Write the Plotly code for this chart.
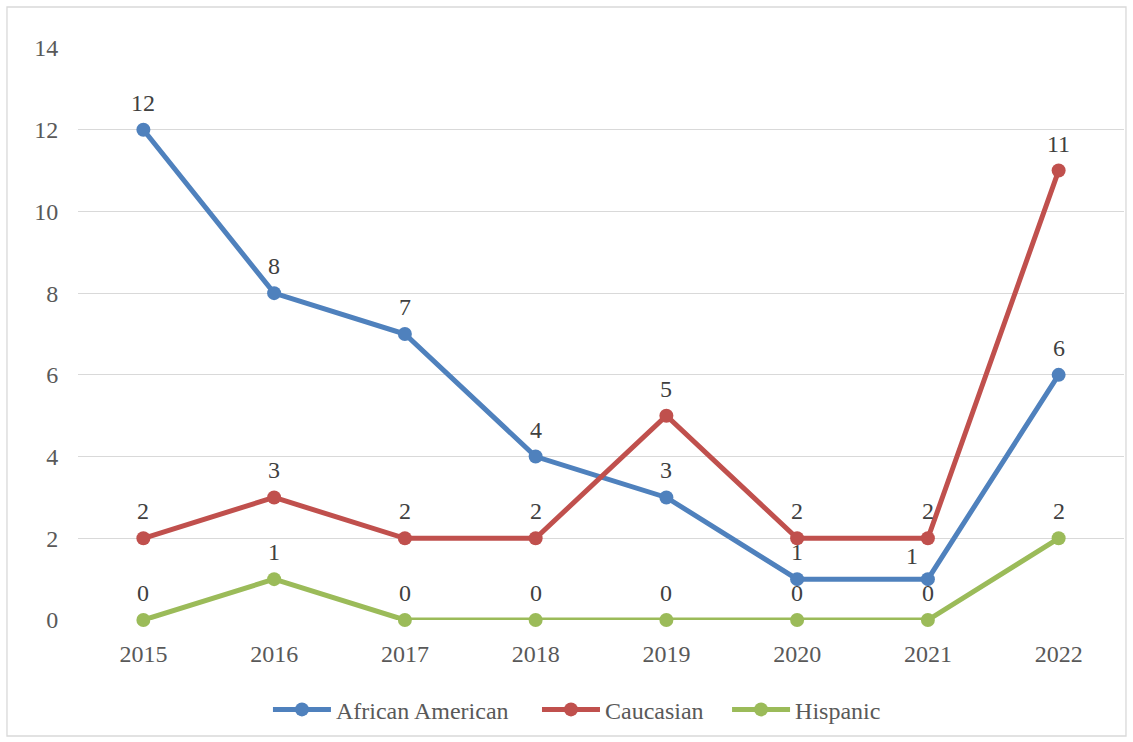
import plotly.graph_objects as go

years = ["2015", "2016", "2017", "2018", "2019", "2020", "2021", "2022"]
african_american = [12, 8, 7, 4, 3, 1, 1, 6]
caucasian = [2, 3, 2, 2, 5, 2, 2, 11]
hispanic = [0, 1, 0, 0, 0, 0, 0, 2]
y_ticks = [0, 2, 4, 6, 8, 10, 12, 14]

series = [
    ("African American", african_american, "#4F81BD"),
    ("Caucasian", caucasian, "#C0504D"),
    ("Hispanic", hispanic, "#9BBB59"),
]

FONT = "'Times New Roman', 'Liberation Serif', 'DejaVu Serif', serif"
TXT = "#595959"
FS = 24

legend_ids = ["legend", "legend2", "legend3"]
legend_x = [0.1816, 0.4388, 0.6205]

fig = go.Figure()
xs = list(range(len(years)))
annotations = []
for k, (name, vals, color) in enumerate(series):
    fig.add_trace(go.Scatter(
        x=xs, y=vals, name=name, mode="lines+markers",
        line=dict(color=color, width=5),
        marker=dict(color=color, size=14),
        cliponaxis=False, legend=legend_ids[k],
    ))
    for i, v in enumerate(vals):
        xshift, yshift = 0, 27
        if name == "African American" and i == 6:
            xshift, yshift = -16, 23
        annotations.append(dict(
            x=i, y=v, xref="x", yref="y", text=str(v), showarrow=False,
            xanchor="center", yanchor="middle", xshift=xshift, yshift=yshift,
            font=dict(family=FONT, size=FS, color="#404040"),
        ))

legend_common = dict(orientation="h", xanchor="left", y=-0.157, yanchor="middle",
                     font=dict(family=FONT, size=FS, color=TXT), itemwidth=58,
                     bgcolor="rgba(0,0,0,0)")

fig.update_layout(
    width=1133, height=742,
    margin=dict(l=78, r=9, t=48, b=122),
    paper_bgcolor="white", plot_bgcolor="white",
    font=dict(family=FONT, size=FS, color=TXT),
    showlegend=True,
    legend=dict(x=legend_x[0], **legend_common),
    legend2=dict(x=legend_x[1], **legend_common),
    legend3=dict(x=legend_x[2], **legend_common),
    xaxis=dict(range=[-0.5, 7.5], tickmode="array", tickvals=xs, ticktext=years,
               showgrid=False, zeroline=False, showline=False,
               ticks="outside", ticklen=12, tickcolor="rgba(0,0,0,0)",
               tickfont=dict(family=FONT, size=FS, color=TXT), fixedrange=True),
    yaxis=dict(range=[0, 14], tickmode="array", tickvals=y_ticks,
               ticktext=[str(t) for t in y_ticks],
               showgrid=True, gridcolor="#D9D9D9", gridwidth=1.3,
               zeroline=False, showline=False, ticks="outside", ticklen=14,
               tickcolor="rgba(0,0,0,0)",
               tickfont=dict(family=FONT, size=FS, color=TXT), fixedrange=True),
    annotations=annotations,
    shapes=[dict(type="rect", xref="paper", yref="paper",
                 x0=-0.0679, x1=1.0019, y0=-0.2028, y1=1.0717,
                 line=dict(color="#D9D9D9", width=1.3), fillcolor="rgba(0,0,0,0)",
                 layer="below")],
)

fig.write_html("out.html")
